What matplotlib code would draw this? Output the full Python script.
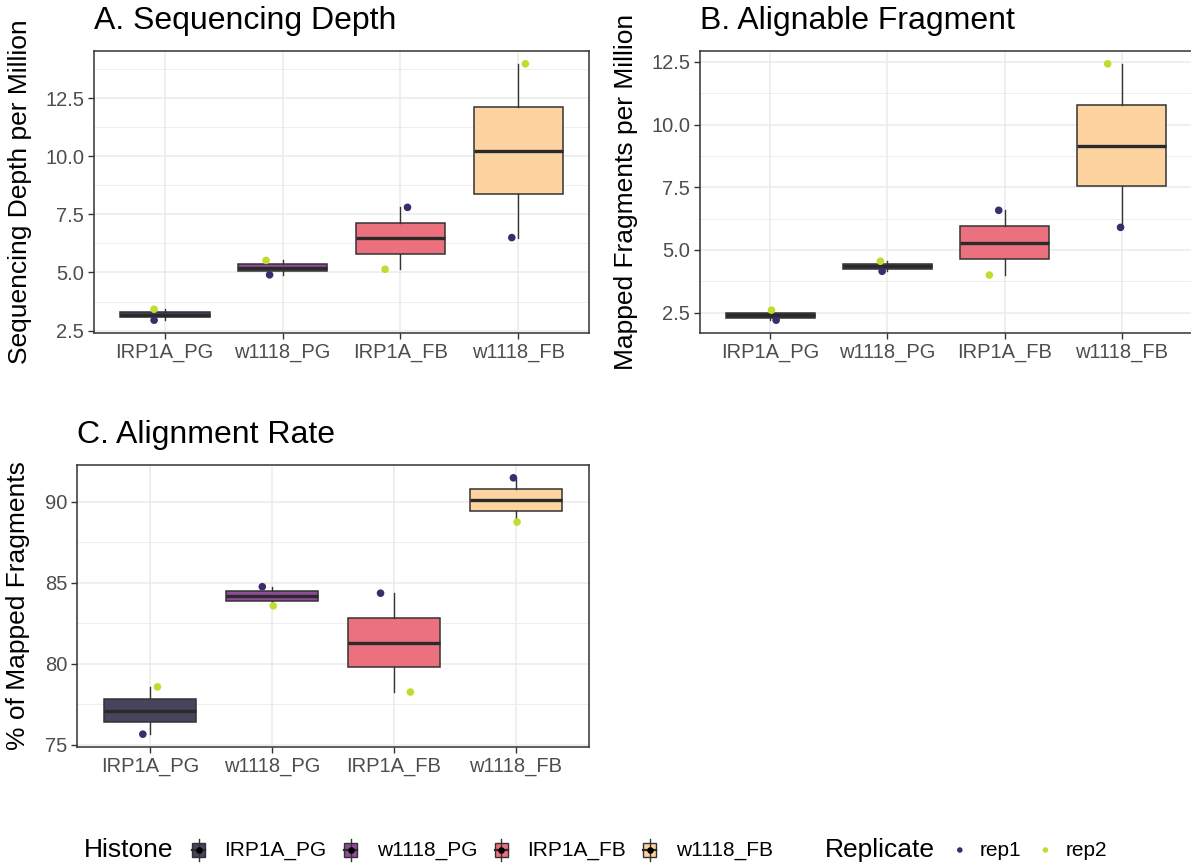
import matplotlib
matplotlib.use('Agg')
import matplotlib.pyplot as plt
from matplotlib.patches import Rectangle
import numpy as np

groups = ['IRP1A_PG', 'w1118_PG', 'IRP1A_FB', 'w1118_FB']
replicates = ['rep1', 'rep2']

# one row per group: [rep1, rep2]
depth = [[2.95, 3.42], [4.90, 5.52], [7.80, 5.14], [6.50, 13.97]]
mapped = [[2.20, 2.60], [4.15, 4.55], [6.58, 4.00], [5.90, 12.42]]
rate = [[75.65, 78.57], [84.75, 83.57], [84.35, 78.25], [91.47, 88.74]]

depth_ticks = [2.5, 5.0, 7.5, 10.0, 12.5]
mapped_ticks = [2.5, 5.0, 7.5, 10.0, 12.5]
rate_ticks = [75, 80, 85, 90]

# horizontal jitter of the replicate points
jit_a = [[-0.09, -0.09], [-0.11, -0.14], [0.06, -0.13], [-0.055, 0.06]]
jit_b = [[0.05, 0.01], [-0.045, -0.06], [-0.05, -0.13], [-0.01, -0.12]]
jit_c = [[-0.06, 0.06], [-0.08, 0.01], [-0.11, 0.135], [-0.02, 0.01]]

box_cols = ['#47445e', '#8e4b98', '#ec717f', '#fdd3a0']
rep_cols = ['#3b2c6e', '#c0dc30']

W, H = 1191, 867
plt.rcParams['font.family'] = ['Liberation Sans', 'DejaVu Sans']

fig = plt.figure(figsize=(W / 100, H / 100), dpi=100)


def px_axes(l, t, r, b):
    return fig.add_axes([l / W, 1 - b / H, (r - l) / W, (b - t) / H])


def panel(ax, values, jitter, ticks, fmt, title, ylabel, ylab_x):
    vals = np.array(values)
    jit = np.array(jitter)
    pos = np.arange(1, len(groups) + 1)
    bp = ax.boxplot([v for v in vals], positions=pos, widths=0.76,
                    patch_artist=True, showcaps=False, showfliers=False,
                    whis=(0, 100),
                    boxprops=dict(edgecolor='#333333', linewidth=1.1),
                    whiskerprops=dict(color='#333333', linewidth=1.0),
                    medianprops=dict(color='#2a2a2a', linewidth=2.4),
                    zorder=2)
    for patch, c in zip(bp['boxes'], box_cols):
        patch.set_facecolor(c)
    for j in range(len(replicates)):
        ax.scatter(pos + jit[:, j], vals[:, j], s=30, color=rep_cols[j],
                   edgecolors='none', zorder=3)

    lo, hi = vals.min(), vals.max()
    pad = 0.05 * (hi - lo)
    ax.set_ylim(lo - pad, hi + pad)
    ax.set_xlim(0.4, len(groups) + 0.6)
    ax.set_xticks(pos)
    ax.set_xticklabels(groups)
    ax.set_yticks(ticks)
    ax.set_yticklabels([fmt % t for t in ticks])
    step = ticks[1] - ticks[0]
    minor = [t + step / 2 for t in [ticks[0] - step] + list(ticks)]
    minor = [m for m in minor if lo - pad < m < hi + pad]
    ax.set_yticks(minor, minor=True)

    ax.set_axisbelow(True)
    ax.grid(which='major', color='#ebebeb', linewidth=1.1)
    ax.grid(which='minor', axis='y', color='#ebebeb', linewidth=0.6)
    for s in ax.spines.values():
        s.set_color('#333333')
        s.set_linewidth(1.1)
    ax.tick_params(which='major', direction='out', length=4, width=1.0,
                   color='#333333', labelcolor='#4d4d4d', labelsize=14.5,
                   pad=3)
    ax.tick_params(which='minor', length=0)
    ax.set_title(title, loc='left', fontsize=23, pad=16, color='black')
    ax.set_ylabel(ylabel, fontsize=19, color='black')
    bb = ax.get_position()
    ax.yaxis.set_label_coords((ylab_x / W - bb.x0) / bb.width, 0.5)


ax_a = px_axes(94, 51, 589, 333)
panel(ax_a, depth, jit_a, depth_ticks, '%.1f', 'A. Sequencing Depth',
      'Sequencing Depth per Million', 32)

ax_b = px_axes(700, 51, 1192, 333)
panel(ax_b, mapped, jit_b, mapped_ticks, '%.1f', 'B. Alignable Fragment',
      'Mapped Fragments per Million', 638)

ax_c = px_axes(77, 465, 589, 747)
panel(ax_c, rate, jit_c, rate_ticks, '%d', 'C. Alignment Rate',
      '% of Mapped Fragments', 30)

# legend along the bottom, drawn in pixel units
lax = fig.add_axes([0, 0, 1, 1])
lax.set_xlim(0, W)
lax.set_ylim(H, 0)
lax.axis('off')
ly = 850

items = [('title', 'Histone')]
for g, c in zip(groups, box_cols):
    items += [('box', c), ('label', g)]
items += [('gap', None), ('title', 'Replicate')]
for r, c in zip(replicates, rep_cols):
    items += [('dot', c), ('label', r)]

fig.canvas.draw()
rend = fig.canvas.get_renderer()
widths = []
texts = []
for kind, val in items:
    if kind in ('title', 'label'):
        size = 19 if kind == 'title' else 15
        t = lax.text(0, ly, val, fontsize=size, va='center', ha='left')
        texts.append(t)
        widths.append(t.get_window_extent(rend).width)
    elif kind == 'gap':
        texts.append(None)
        widths.append(52)
    else:
        texts.append(None)
        widths.append(24)

gaps = []
for i, (kind, _) in enumerate(items[:-1]):
    nxt = items[i + 1][0]
    if kind == 'title':
        gaps.append(13)
    elif kind == 'box':
        gaps.append(14)
    elif kind == 'dot':
        gaps.append(8)
    elif kind == 'label' and nxt in ('box', 'dot'):
        gaps.append(12)
    else:
        gaps.append(0)
gaps.append(0)

total = sum(widths) + sum(gaps)
x = W / 2 - total / 2
for (kind, val), w, g, t in zip(items, widths, gaps, texts):
    if t is not None:
        t.set_x(x)
    elif kind == 'box':
        cx = x + w / 2
        lax.plot([cx, cx], [ly - 11, ly + 11], color='#333333', lw=1.0)
        lax.add_patch(Rectangle((cx - 6.5, ly - 7), 13, 14, facecolor=val,
                                edgecolor='#333333', lw=1.0))
        lax.plot([cx - 6.5, cx + 6.5], [ly, ly], color='#2a2a2a', lw=1.6)
        lax.scatter([cx], [ly], s=14, color='black', zorder=5)
    elif kind == 'dot':
        lax.scatter([x + w / 2], [ly], s=16, color=val, edgecolors='none')
    x += w + g

fig.savefig('out.png', dpi=100)
